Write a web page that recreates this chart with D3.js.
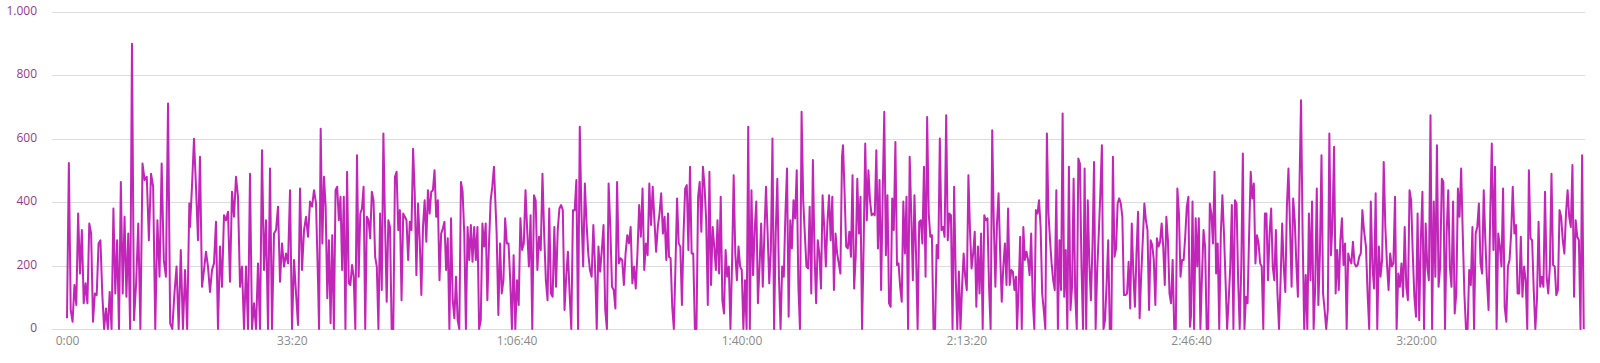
<!DOCTYPE html>
<html>
<head>
<meta charset="utf-8">
<script src="https://cdn.jsdelivr.net/npm/d3@7"></script>
<style>
  html, body { margin: 0; padding: 0; background: #fff; }
  #chart text { font-family: "Open Sans", sans-serif; font-size: 12px; }
</style>
</head>
<body>
<div id="chart"></div>
<script>
// values, one array per stretch of the time axis
var valuesA1 = [34,524,60,23,139,76,364,175,312,81,144,81,333,301,23,112,107,270,280,112,0,65,0,117,0,380,112,280,0,464,112,354,102,301,0,900];
var valuesA2 = [28,144,333,0,522,470,480,280,490,449,0,343,165,522,218,165,711,18,0,112,197,0,249,0,186,0,396];
var valuesB = [322,449,600,449,280,543,133,186,244,197,117,186,207,338,0,260,133,359,343,370,149,433,354,480,417,133,197,0,197,0,490,0,81,0,207,0,564,186,343,0,506,0,301,312,386,149,270,197,238,207,438,0,218,112,13,443,186,312,354,291,402,386,438,396,149];
var valuesC = [0,632,270,480,386,97,280,18,296,0,438,449,343,417,186,417,0,496,144,139,202,165,0,548,165,364,380,449,0,354,343,286,433,406,228,197,0,364,123,617,333,86,343,322,0,0,480,496,312,375,91,364,354,343,218,338,312,569,428,170,396,280,107,322,406,275,438,364,433,438,501,354,406,154,301,317,338,186,286,0,349,91,34,165,28,0,464,433,301,0,322,218,328,212,322,218,322,0,28,333,260,333,91,270,406,449,512];
var valuesD = [301,44,270,112,154,349,270,270,154,0,233,0,154,76,349,249,270,438,312,197,359,0,422,406,186,291,249,490,301,154,91,380,112,102,322,133,312,380,391,375,60,165,244,112,0,375,375,470,0,638,364,197,459,333,238,186,165,328,197,0,260,181,249,328,60,0,459,322,133,123,65,464,207,223,218,139,238,296,270,322,144,197,128,238,391,291,443,186,270,233,459,328,449,343,244,322,364,428,301,354,218,364];
var valuesE = [228,223,70,0,197,412,270,260,76,301,443,454,249,512,238,238,0,0,417,464,307,512,449,343,76,496,139,322,260,186,343,175,417,91,49,249,165,197,0,207,485,238,154,260,197,186,0,154,0,638,0,438,170,312,402,81,197,333,133,301,449,301,144,249,601,0,301,474,165,0,197,165,364,506,39,343,254,406,349,501,139,0,685,406,301,197,191,386,112,533,238,81,280,238,128,422,322,197,338,422,280,417,123,301,238,207,175,543];
var valuesF = [580,428,260,254,307,228,485,128,228,474,301,417,0,265,585,343,501,406,359,364,359,564,254,470,123,428,685,233,422,81,70,412,312,590,202,207,133,86,402,238,417,0,543,364,154,422,238,0,338,343,270,512,165,669,364,291,296,0,0,265,223,601,312,322,291,674,280,364,359,0,449,165,0,181,0,133,238,165,123,485,312,191,238,307,70,260,112,301,0,359,343,349,133,0,627,333,133,333,428,238,86,197,270,139,380,139,186,181,123,165];
var valuesG = [0,123,291,0,322,218,244,218,170,301,91,0,375,364,406,322,112,60,0,617,364,280,207,154,123,438,0,280,123,680,102,249,0,512,60,133,474,112,0,538,522,197,0,506,0,406,207,91,260,527,0,186,301,428,580,0,28,144,280,0,0,543,228,254,396,412,396,354,107,107,112,212,65,333,175,70,238,370,34,170,280,396,343,312,60,280,265,218,76,286,260,275,333,260,139,354,280,112,81,218,0,0,443,364,165,218,218,291,386,417,7];
var valuesH = [39,402,0,349,197,349,0,165,312,260,0,0,396,364,270,496,175,270,0,301,422,301,154,0,91,197,391,0,406,396,154,0,197,554,0,102,81,301,496,412,459,207,296,270,207,197,0,364,364,154,301,380,197,154,312,112,0,154,333,197,117,386,506,322,133,412,343,207,102,449,722,301,0,170,0,364,154,402,0,133,443,76,238,548,112,60,0,60,617,233,333,575,112,249,123,280,349,202,270,0,238,218,207,275,207,197,202,228,238,375,312];
var valuesI = [260,112,0,402,197,128,428,0,260,165,218,527,322,207,123,238,197,207,417,0,175,133,207,102,322,133,91,438,406,238,102,39,364,28,280,433,0,333,197,154,674,0,402,165,580,133,197,474,464,0,301,438,197,133,402,49,112,443,354,506,301,112,0,0,186,139,322,0,301,322,396,207,175,438,280,154,60,354,585,249,512,0,301,260,197,443,70,23,197,218,301,449,301,328,112,112,291,102,197,154,0,501,286,280,123,0,91,338,133,165,133,433,165,112,197,490,202,197,107,123,375,354,280,238,364,438,354,322,517,102,343,291,280,0,548,0];

// first and last second of each stretch
var stretchTimes = [[0,578],[596,1088],[1094,2233],[2242,3798],[3822,5346],[5355,6894],[6903,8442],[8451,9989],[9998,11537],[11555,13492]];

var yTicks = [0, 200, 400, 600, 800, 1000];
var xTicks = [0, 2000, 4000, 6000, 8000, 10000, 12000];

function buildPoints() {
    var stretches = [valuesA1, valuesA2, valuesB, valuesC, valuesD, valuesE, valuesF, valuesG, valuesH, valuesI];
    var points = [];
    stretches.forEach(function(vals, i) {
        var t0 = stretchTimes[i][0], t1 = stretchTimes[i][1];
        var step = (t1 - t0) / (vals.length - 1);
        vals.forEach(function(v, j) {
            points.push({ t: t0 + j * step, v: v });
        });
    });
    return points;
}

var formatTime = function(sec) {
    var h = Math.floor(sec / 3600);
    var m = Math.floor((sec % 3600) / 60);
    var s = sec % 60;
    var pad = function(n) { return (n < 10 ? '0' : '') + n; };
    return h > 0 ? h + ':' + pad(m) + ':' + pad(s) : m + ':' + pad(s);
};

var deLocale = d3.formatLocale({ decimal: ',', thousands: '.', grouping: [3], currency: ['', ' €'] });
var formatValue = deLocale.format(',');

function drawChart() {
    var width = 1600, height = 363;
    var svg = d3.select('#chart')
        .append('svg')
        .attr('width', width)
        .attr('height', height);

    var x = d3.scaleLinear().domain([0, 13500]).range([67, 67 + 13500 * 0.112417]);
    var y = d3.scaleLinear().domain([0, 1000]).range([329, 12]);

    var grid = svg.append('g').attr('class', 'grid');
    grid.selectAll('line')
        .data(yTicks)
        .enter().append('line')
        .attr('x1', 52)
        .attr('x2', 1585)
        .attr('y1', function(d) { return Math.round(y(d)) + 0.5; })
        .attr('y2', function(d) { return Math.round(y(d)) + 0.5; })
        .attr('stroke', '#dcdcdc')
        .attr('stroke-width', 1);

    var yAxis = d3.axisLeft(y).tickValues(yTicks).tickFormat(formatValue).tickSize(0).tickPadding(0);
    svg.append('g')
        .attr('transform', 'translate(37,0)')
        .call(yAxis)
        .call(function(g) { g.select('.domain').remove(); })
        .selectAll('text')
        .attr('fill', '#953a8f')
        .attr('dy', '0.2em');

    var xAxis = d3.axisBottom(x).tickValues(xTicks).tickFormat(formatTime).tickSize(0).tickPadding(0);
    svg.append('g')
        .attr('transform', 'translate(0,336)')
        .call(xAxis)
        .call(function(g) { g.select('.domain').remove(); })
        .selectAll('text')
        .attr('fill', '#8a8a8a');

    var line = d3.line()
        .x(function(d) { return x(d.t); })
        .y(function(d) { return y(d.v); });

    svg.append('path')
        .datum(buildPoints())
        .attr('fill', 'none')
        .attr('stroke', '#c226b8')
        .attr('stroke-width', 2)
        .attr('stroke-linejoin', 'round')
        .attr('d', line);
}

document.addEventListener('DOMContentLoaded', drawChart);
</script>
</body>
</html>
